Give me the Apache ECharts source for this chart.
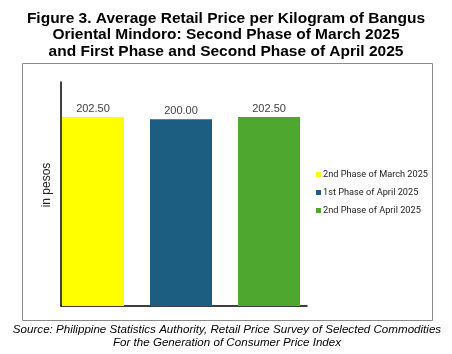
<!DOCTYPE html>
<html><head><meta charset="utf-8">
<script src="https://cdn.jsdelivr.net/npm/echarts@6/dist/echarts.min.js"></script>
<style>html,body{margin:0;padding:0;background:#fff}#c{width:452px;height:354px}</style>
</head><body><div id="c"></div>
<script>
const categories = [''];
const seriesNames = ['2nd Phase of March 2025', '1st Phase of April 2025', '2nd Phase of April 2025'];
const seriesValues = [202.50, 200.00, 202.50];
const seriesColors = ['#FFFF00', '#1B5E82', '#4EA72E'];

const chart = echarts.init(document.getElementById('c'), null, {renderer: 'canvas'});
const series = seriesNames.map((n, i) => ({
  name: n,
  type: 'bar',
  data: [seriesValues[i]],
  barWidth: 62,
  barGap: '42%',
  itemStyle: {color: seriesColors[i]},
  label: {show: true, position: 'top', distance: 3, formatter: p => p.value.toFixed(2),
    color: '#404040', fontFamily: 'Liberation Sans', fontSize: 11}
}));
chart.setOption({
  animation: false,
  title: {
    text: 'Figure 3. Average Retail Price per Kilogram of Bangus\nOriental Mindoro: Second Phase of March 2025\nand First Phase and Second Phase of April 2025',
    left: 'center', top: 5,
    textStyle: {fontFamily: 'Liberation Sans', fontWeight: 'bold', fontSize: 15.5, lineHeight: 16.5, color: '#000'}
  },
  legend: {
    orient: 'vertical', left: 311, top: 165, itemWidth: 5, itemHeight: 5, itemGap: 9, icon: 'rect',
    textStyle: {fontFamily: 'Roboto', fontSize: 9.2, color: '#222', padding: [0,0,0,-3]},
    data: seriesNames
  },
  grid: [
    {left: 61, top: 82, width: 240, height: 224, containLabel: false},
    {left: 61, top: 82, width: 246, height: 224, containLabel: false}
  ],
  xAxis: [
    {type: 'category', gridIndex: 0, data: categories, axisTick: {show: false}, axisLabel: {show: false}, axisLine: {show: false}},
    {type: 'category', gridIndex: 1, data: categories, axisTick: {show: false}, axisLabel: {show: false},
      axisLine: {lineStyle: {color: '#000', width: 1.5}}}
  ],
  yAxis: [
    {type: 'value', gridIndex: 0, min: 0, max: 240, splitLine: {show: false}, axisLabel: {show: false},
      axisTick: {show: false}, axisLine: {show: true, lineStyle: {color: '#000', width: 1.5}}},
    {type: 'value', gridIndex: 1, min: 0, max: 240, show: false, splitLine: {show: false}}
  ],
  series: series,
  graphic: [
    {type: 'rect', shape: {x: 22.5, y: 63.5, width: 410, height: 257}, style: {fill: 'none', stroke: '#8a8a8a', lineWidth: 1}, z: -1},
    {type: 'text', x: 47, y: 185, rotation: Math.PI / 2, style: {text: 'in pesos', fontFamily: 'Liberation Sans', fontSize: 12, fill: '#222', align: 'center', verticalAlign: 'middle'}},
    {type: 'text', x: 227, y: 323, style: {text: 'Source: Philippine Statistics Authority, Retail Price Survey of Selected Commodities\nFor the Generation of Consumer Price Index', fontFamily: 'Liberation Sans', fontStyle: 'italic', fontSize: 11.6, lineHeight: 13, fill: '#000', align: 'center'}}
  ]
});
</script></body></html>
